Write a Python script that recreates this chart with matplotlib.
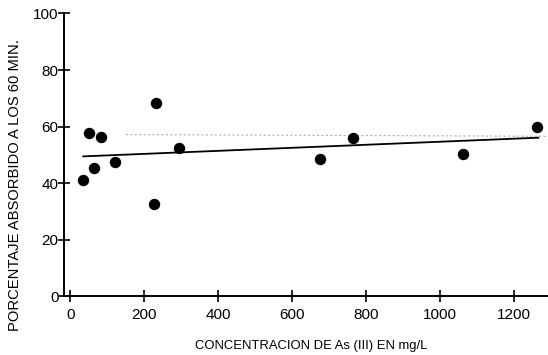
import matplotlib
matplotlib.use("Agg")
import matplotlib.pyplot as plt

plt.rcParams['font.family'] = ['Liberation Sans', 'DejaVu Sans']

# As(III) concentration (mg/L) vs percent absorbed after 60 min
conc = [35, 50, 63, 83, 122, 227, 232, 293, 675, 765, 1062, 1262]
absorbed = [41.1, 57.9, 45.4, 56.3, 47.6, 32.6, 68.3, 52.6, 48.7, 56.0, 50.2, 59.8]

# fitted trend line end points
fit_x = [35, 1265]
fit_y = [49.5, 56.1]

xticks = [0, 200, 400, 600, 800, 1000, 1200]
yticks = [0, 20, 40, 60, 80, 100]

fig = plt.figure(figsize=(5.48, 3.55), dpi=100)
ax = fig.add_axes([0.1173, 0.165, 0.8827, 0.797])

# faint copy line running across the sheet
ax.plot([150, 1291], [57.2, 56.6], color="#b0b0b0", lw=0.8, ls=(0, (2, 2)), zorder=1)

ax.plot(fit_x, fit_y, color="black", lw=1.3, zorder=2)
ax.plot(conc, absorbed, "o", color="black", ms=7.2, zorder=3)

ax.set_xlim(-16.2, 1291)
ax.set_ylim(0, 100)
ax.set_xticks(xticks)
ax.set_yticks(yticks)

for s in ["top", "right"]:
    ax.spines[s].set_visible(False)
for s in ["left", "bottom"]:
    ax.spines[s].set_linewidth(1.4)

ax.tick_params(axis="both", direction="inout", length=8, width=1.2, labelsize=11)
ax.tick_params(axis="y", pad=0)
ax.tick_params(axis="x", pad=4)

ax.set_xlabel("CONCENTRACION DE As (III) EN mg/L", fontsize=9.4)
ax.xaxis.set_label_coords(0.51, -0.155)
ax.set_ylabel("PORCENTAJE ABSORBIDO A LOS 60 MIN.", fontsize=10.6)
ax.yaxis.set_label_coords(-0.088, 0.392)

fig.savefig("out.png", dpi=100)
